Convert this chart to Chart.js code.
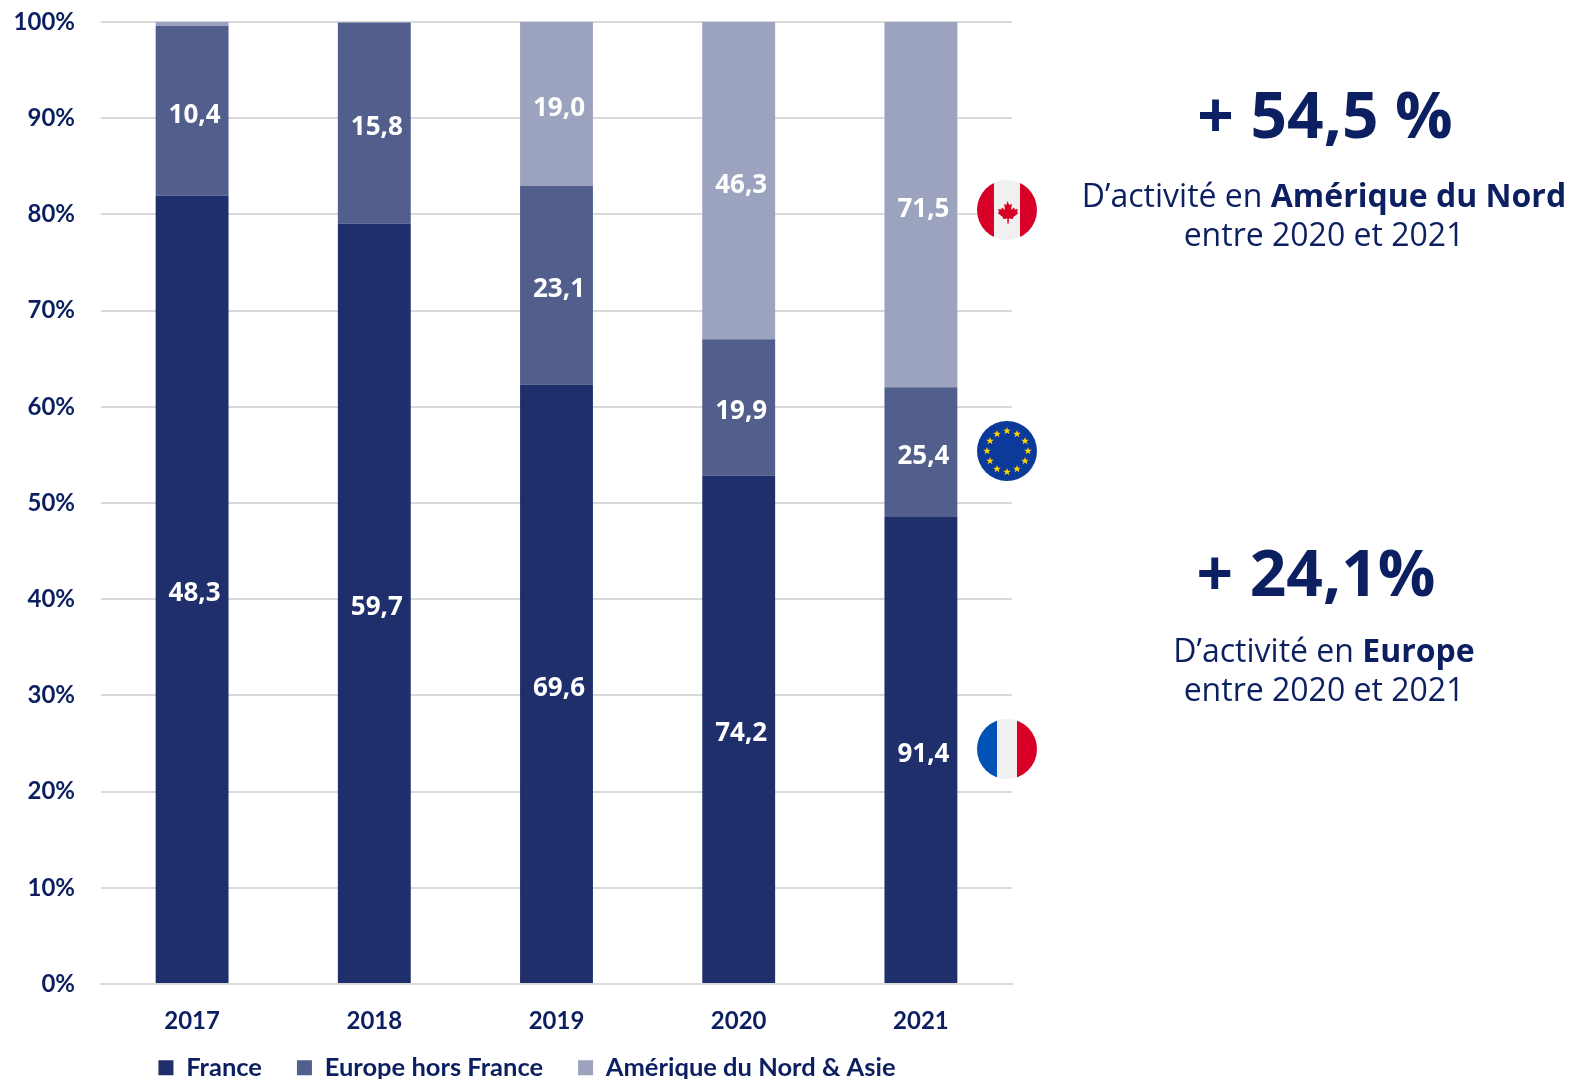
<!DOCTYPE html>
<html lang="fr"><head><meta charset="utf-8">
<script src="https://cdn.jsdelivr.net/npm/chart.js@4"></script>
<style>
html,body{margin:0;padding:0;background:#fff;width:1570px;height:1079px;overflow:hidden}
#wrap{position:absolute;left:0;top:0;width:1054px;height:1079px}
.t{position:absolute;font-family:"Open Sans",sans-serif;color:#0c1f60;text-align:center;white-space:nowrap;transform:translateX(-50%)}
.big{font-weight:700;font-size:64px;line-height:70px}
.sub{font-size:32px;line-height:39px}
.sub b{font-weight:700}
svg{position:absolute}
</style></head><body>
<div id="wrap"><canvas id="c" width="1054" height="1079"></canvas></div>
<svg style="left:0;top:0" width="1570" height="1079" viewBox="0 0 1570 1079">
 <defs>
  <clipPath id="ca"><circle cx="1007" cy="210" r="30"/></clipPath>
  <clipPath id="fr"><circle cx="1007" cy="749" r="30"/></clipPath>
  <polygon id="st" points="0,-4 1,-1.3 3.8,-1.2 1.6,0.5 2.4,3.2 0,1.600 -2.4,3.2 -1.6,0.5 -3.8,-1.2 -1,-1.3" fill="#ffd400"/>
 </defs>
 <g clip-path="url(#ca)">
  <rect x="977" y="180" width="60" height="60" fill="#f0f0f0"/>
  <rect x="977" y="180" width="17" height="60" fill="#d80027"/>
  <rect x="1020" y="180" width="17" height="60" fill="#d80027"/>
  <path d="M1007 201l2.500 4 2.500-1-1 6 3-2.500.8 2 3.200-.5-1 3.200 1.500.8-5 4-.700 2-4-.500v5h-1.500v-5l-4 .500-.7-2-5-4 1.500-.8-1-3.200 3.200.5.800-2 3 2.500-1-6 2.500 1z" fill="#d80027"/>
 </g>
 <circle cx="1007" cy="451" r="30" fill="#0b3a9b"/>
 <use href="#st" x="1007" y="431"/><use href="#st" x="1017" y="434"/><use href="#st" x="1025" y="441"/>
 <use href="#st" x="1028" y="451"/><use href="#st" x="1025" y="461"/><use href="#st" x="1017" y="469"/>
 <use href="#st" x="1007" y="472"/><use href="#st" x="997" y="469"/><use href="#st" x="990" y="461"/>
 <use href="#st" x="987" y="451"/><use href="#st" x="990" y="441"/><use href="#st" x="997" y="434"/>
 <g clip-path="url(#fr)">
  <rect x="977" y="719" width="60" height="60" fill="#f0f0f0"/>
  <rect x="977" y="719" width="20" height="60" fill="#0052b4"/>
  <rect x="1017" y="719" width="20" height="60" fill="#d80027"/>
 </g>
</svg>
<div class="t big" style="left:1325px;top:79px">+ 54,5 %</div>
<div class="t sub" style="left:1324px;top:175px">D’activité en <b>Amérique du Nord</b><br>entre 2020 et 2021</div>
<div class="t big" style="left:1316px;top:537px">+ 24,1%</div>
<div class="t sub" style="left:1324px;top:630px">D’activité en <b>Europe</b><br>entre 2020 et 2021</div>
<script>
const years = ["2017","2018","2019","2020","2021"];
const france = [48.3,59.7,69.6,74.2,91.4];
const europe = [10.4,15.8,23.1,19.9,25.4];
const amerique = [0.25,0.05,19.0,46.3,71.5];
const hiddenBelow = 1;
const totals = years.map((_,i)=>france[i]+europe[i]+amerique[i]);
const share = a => a.map((v,i)=>v/totals[i]*100);
const seriesRaw = [france,europe,amerique];
const valueLabels = {
  id:'valueLabels',
  afterDatasetsDraw(chart){
    const ctx=chart.ctx; ctx.save();
    ctx.font='700 26px "Open Sans"'; ctx.fillStyle='#fff';
    ctx.textAlign='center'; ctx.textBaseline='middle';
    chart.data.datasets.forEach((d,di)=>{
      chart.getDatasetMeta(di).data.forEach((b,i)=>{
        const raw=seriesRaw[di][i];
        if(raw<hiddenBelow) return;
        ctx.fillText(raw.toFixed(1).replace('.',','), b.x+2.5, (b.y+b.base)/2+4.500);
      });
    });
    ctx.restore();
  }
};
const legendPlace = {
  id:'legendPlace',
  beforeLayout(chart){
    const l=chart.legend;
    if(l && !l._wrapped){
      const f=l.fit;
      l.fit=function(){f.call(this); this.height=38; this.minSize&&(this.minSize.height=38);};
      l._wrapped=true;
    }
  },
  afterLayout(chart){
    const l=chart.legend;
    l.top=1070-15-35;
    l.left+=21; l.right+=21;
    const y=chart.scales.y, plotTop=22, a=chart.chartArea;
    y.top=plotTop; y.height=y.bottom-plotTop; y.configure();
    a.top=plotTop; a.height=a.bottom-plotTop;
  }
};
new Chart(document.getElementById('c'),{
  type:'bar',
  data:{labels:years,datasets:[
    {label:'France',data:share(france),backgroundColor:'#1f2f6b'},
    {label:'Europe hors France',data:share(europe),backgroundColor:'#525f8c'},
    {label:'Amérique du Nord & Asie',data:share(amerique),backgroundColor:'#9ca3bf'}
  ]},
  plugins:[valueLabels,legendPlace],
  options:{
    responsive:false,animation:false,
    barPercentage:0.4,categoryPercentage:1,
    layout:{autoPadding:false,padding:{top:4,right:42,left:0,bottom:0}},
    plugins:{
      tooltip:{enabled:false},
      legend:{position:'bottom',labels:{boxWidth:15,boxHeight:15,padding:35,color:'#0c1f60',font:{family:'Lato',weight:'700',size:25.5}}}
    },
    scales:{
      x:{stacked:true,
        grid:{display:false},
        border:{color:'#d9d9d9',width:2},
        ticks:{color:'#0c1f60',padding:15,font:{family:'Lato',weight:'700',size:24}},
        afterFit(s){s.height=57}
      },
      y:{stacked:true,min:0,max:100,
        grid:{color:'#d9d9d9',lineWidth:2,tickLength:0,drawTicks:false},
        border:{display:false},
        ticks:{stepSize:10,color:'#0c1f60',padding:26,font:{family:'Lato',weight:'700',size:24},callback:v=>v+'%'},
        afterFit(s){s.width=101}
      }
    }
  }
});
</script>
</body></html>
